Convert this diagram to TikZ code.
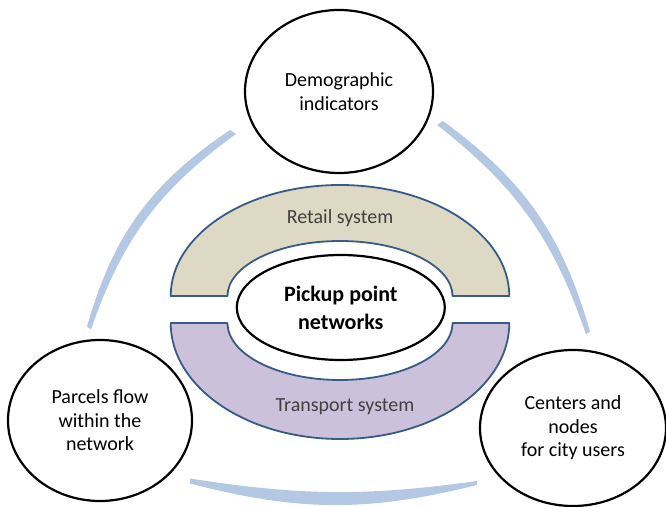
\documentclass[tikz,border=0pt]{standalone}
\usepackage{fontspec}
\setmainfont{Carlito}
\usepackage{tikz}
\usetikzlibrary{shapes.geometric}
\definecolor{arcblue}{RGB}{180,200,227}
\definecolor{retailfill}{RGB}{221,217,196}
\definecolor{transportfill}{RGB}{204,193,218}
\definecolor{archline}{RGB}{56,90,134}

\begin{document}
\begin{tikzpicture}[line cap=round,line join=round,x=1pt,y=1pt,
    bubble/.style={ellipse,draw=black,line width=2.2pt,fill=white,inner sep=0pt,align=center,font=\fontsize{20}{23.5}\selectfont},
    hub/.style={bubble,font=\fontsize{22}{28}\selectfont\bfseries},
    archband/.style={draw=archline,line width=1.8pt},
    archlabel/.style={text=black!75,font=\fontsize{20}{24}\selectfont},
    flowarc/.style={fill=arcblue,draw=none}]
    \useasboundingbox (0,0) rectangle (666,506);
    \clip (0,0) rectangle (666,506);
    \coordinate (lo1) at (230.2,376.1);
    \coordinate (li1) at (235.8,371.9);
    \coordinate (lo2) at (87.0,179.5);
    \coordinate (li2) at (91.0,176.5);
    \coordinate (ro1) at (442.9,385.0);
    \coordinate (ri1) at (437.1,381.0);
    \coordinate (ro2) at (590.0,174.4);
    \coordinate (ri2) at (586.0,171.6);
    \coordinate (bo1) at (190,22.5);
    \coordinate (bi1) at (190,27.5);
    \coordinate (bo2) at (477,21);
    \coordinate (bi2) at (477,25);
    \fill [flowarc] (lo1) to[bend right=20.1] (lo2) -- (li2) to[bend left=17.5] (li1) -- cycle;
    \fill [flowarc] (ro1) to[bend left=19] (ro2) -- (ri2) to[bend right=16.6] (ri1) -- cycle;
    \fill [flowarc] (bo1) to[bend right=14.3] (bo2) -- (bi2) to[bend left=8.4] (bi1) -- cycle;
    \filldraw [archband,fill=retailfill] (170.7,210) arc[start angle=180,end angle=0,x radius=169.3pt,y radius=111pt] -- (452.5,210) arc[start angle=0,end angle=180,x radius=112.5pt,y radius=55pt] -- cycle;
    \filldraw [archband,fill=transportfill] (170.7,183) arc[start angle=180,end angle=360,x radius=169.3pt,y radius=116pt] -- (452.5,183) arc[start angle=360,end angle=180,x radius=112.5pt,y radius=57pt] -- cycle;
    \node [archlabel] (retail) at (340,288) {Retail system};
    \node [archlabel] (transport) at (345,99) {Transport system};
    \node [hub,minimum width=208pt,minimum height=105pt] (pickup) at (340.8,198.5) {Pickup point\\networks};
    \node [bubble,minimum width=188pt,minimum height=163pt] (demo) at (339,414.5) {Demographic\\indicators};
    \node [bubble,minimum width=184pt,minimum height=161pt] (parcels) at (100,85.5) {Parcels flow\\within the\\network};
    \node [bubble,minimum width=186pt,minimum height=156pt] (centers) at (573,78) {Centers and\\nodes\\for city users};
\end{tikzpicture}
\end{document}
